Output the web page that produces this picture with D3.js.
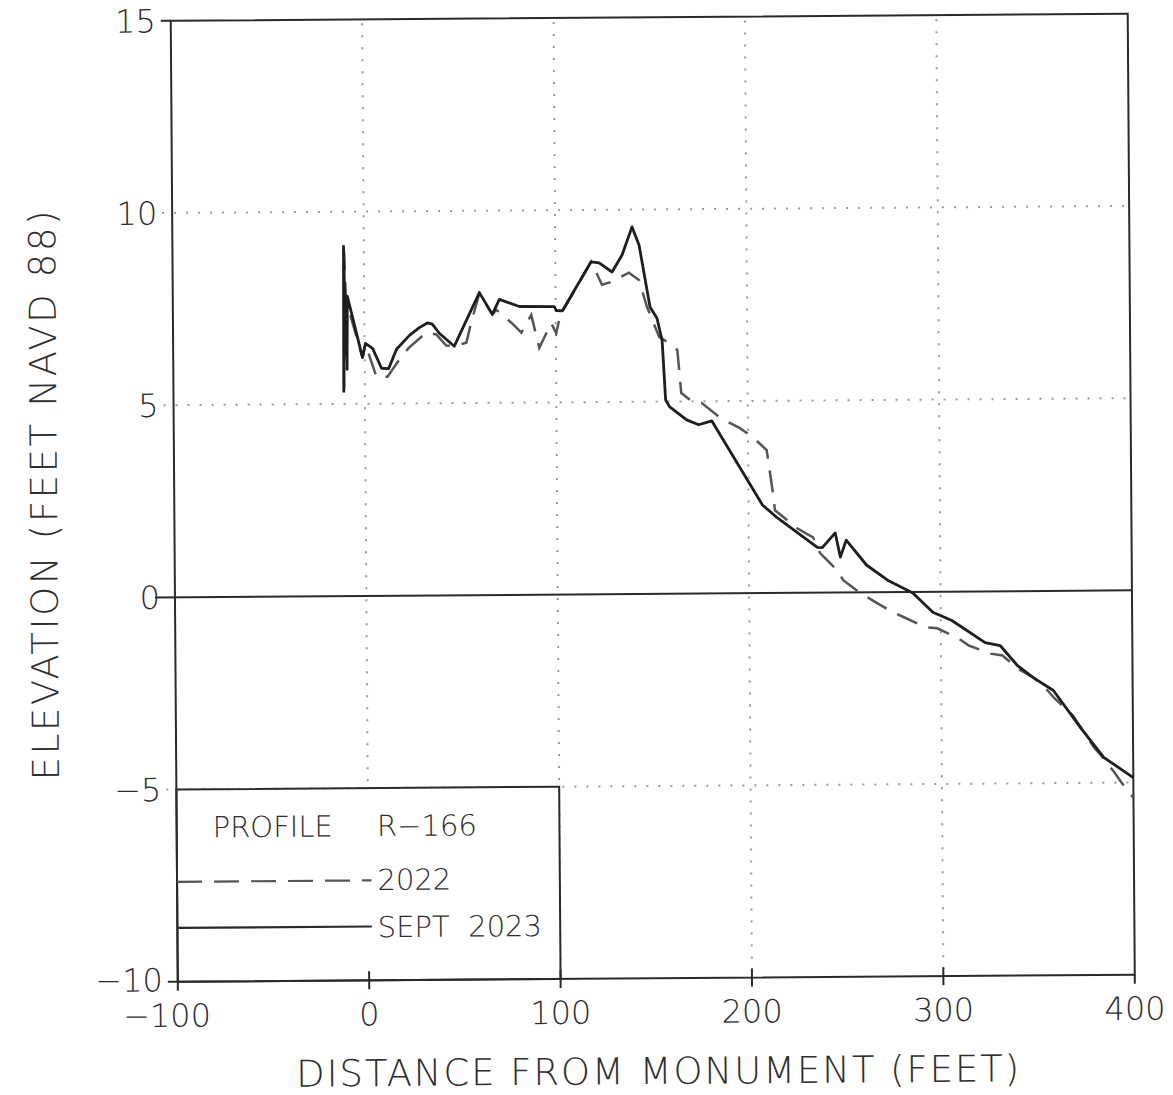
<!DOCTYPE html>
<html lang="en">
<head>
<meta charset="UTF-8">
<title>Profile R-166</title>
<script src="https://d3js.org/d3.v7.min.js"></script>
<style>
  body { margin: 0; background: #fff; }
  svg text { font-family: "DejaVu Sans", "Liberation Sans", sans-serif; font-weight: 200; fill: #2e2e2e; }
</style>
</head>
<body>
<div id="chart"></div>
<script>
// axis ticks
const xTicks = [-100, 0, 100, 200, 300, 400];
const yTicks = [-10, -5, 0, 5, 10, 15];
const xGrid = [0, 100, 200, 300];
const yGrid = [5, 10];

// 2022 survey (dashed)
const dist2022 = [-10.8, -10.4, -9.5, -1.1, 0.5, 6.2, 11.9, 19.2, 23.4, 32.3, 37.5, 42.7, 46.9, 53.2, 55.8, 60.2, 66.9,
  69.0, 76.8, 82.0, 87.2, 91.3, 97.6, 100.2, 101.8, 104, 118.7, 124.3, 129.0, 138.4, 143.6, 147.7, 154.0, 158.2, 163.4,
  165.3, 171.1, 175.8, 186.2, 195.6, 202.4, 209.7, 212.8, 213.8, 225.3, 233.6, 237.2, 246.1, 249.2, 258.1, 264.4,
  274.8, 280.5, 292.0, 298.2, 309.2, 314.4, 325.9, 332.1, 340.5, 348.3, 355.6, 358.7, 368.6, 372.8, 379.6, 383.3,
  390.1, 393.7, 400];
const elev2022 = [5.4, 9.0, 7.7, 6.2, 6.55, 5.68, 5.7, 6.22, 6.46, 6.84, 6.79, 6.5, 6.48, 6.57, 7.09, 7.85, 7.3,
  7.42, 7.08, 6.82, 7.28, 6.42, 7.06, 6.8, 7.14, 7.4, 8.65, 8.05, 8.12, 8.36, 8.17, 7.47, 6.68, 6.55, 6.34,
  5.22, 4.99, 4.96, 4.54, 4.3, 4.06, 3.72, 2.6, 2.15, 1.68, 1.44, 1.03, 0.58, 0.32, -0.02, -0.21,
  -0.52, -0.65, -0.92, -0.95, -1.22, -1.4, -1.62, -1.67, -2.03, -2.25, -2.59, -2.77, -3.24, -3.56, -4.08, -4.29,
  -4.73, -4.99, -5.4];

// Sept 2023 survey (solid)
const dist2023 = [-11, -10.6, -10.2, -9.2, -8.8, -1.1, 0.5, 4.2, 8.8, 12.5, 16.7, 23.5, 28.7, 32.9, 35.5, 39.1, 46.9,
  60.2, 66.9, 70.6, 81.0, 99.3, 100.3, 103.5, 118.7, 122.9, 129.6, 134.9, 140.2, 143.8, 149.3, 152.9, 155.5, 157.1,
  159.2, 168.0, 174.3, 181.1, 207.3, 215.1, 235.8, 238.4, 245.2, 247.8, 250.9, 261.4, 272.4, 285.5, 295.9, 305.8,
  323.1, 330.9, 339.8, 348.1, 358.6, 372.6, 384.6, 400];
const elev2023 = [5.3, 9.1, 7.6, 5.9, 7.8, 6.2, 6.57, 6.44, 5.92, 5.91, 6.41, 6.77, 6.97, 7.09, 7.06, 6.82, 6.48,
  7.87, 7.3, 7.69, 7.5, 7.49, 7.39, 7.38, 8.65, 8.62, 8.38, 8.82, 9.55, 9.08, 7.46, 7.17, 6.59, 5.04,
  4.86, 4.52, 4.39, 4.49, 2.29, 1.95, 1.18, 1.17, 1.55, 0.92, 1.36, 0.71, 0.31, -0.03, -0.53, -0.75,
  -1.33, -1.41, -1.93, -2.25, -2.59, -3.56, -4.34, -4.87];

const width = 1173, height = 1095;
const plot = { left: 174.25, top: 17.25, w: 957, h: 961 };
const ink = "#2a2a2a";

const svg = d3.select("#chart").append("svg")
  .attr("width", width)
  .attr("height", height);

// the scanned sheet is a little skewed
const g = svg.append("g")
  .attr("transform", `rotate(-0.42, ${plot.left + plot.w / 2}, ${plot.top + plot.h / 2})`);

const x = d3.scaleLinear().domain([-100, 400]).range([plot.left, plot.left + plot.w]);
const y = d3.scaleLinear().domain([-10, 15]).range([plot.top + plot.h, plot.top]);

// dotted grid
g.selectAll(".vgrid").data(xGrid).join("line")
  .attr("x1", d => x(d)).attr("x2", d => x(d))
  .attr("y1", y(15) + 4).attr("y2", y(-10))
  .attr("stroke", "#9a9a9a").attr("stroke-width", 2).attr("stroke-dasharray", "2,10");
g.selectAll(".hgrid").data(yGrid.concat([-5])).join("line")
  .attr("x1", x(-100) - 10).attr("x2", x(400))
  .attr("y1", d => y(d)).attr("y2", d => y(d))
  .attr("stroke", "#9a9a9a").attr("stroke-width", 2).attr("stroke-dasharray", "2,10");

// zero line
g.append("line")
  .attr("x1", x(-100) - 20).attr("x2", x(400))
  .attr("y1", y(0)).attr("y2", y(0))
  .attr("stroke", ink).attr("stroke-width", 2);

// legend box (covers grid)
g.append("rect")
  .attr("x", x(-100)).attr("y", y(-5))
  .attr("width", x(100) - x(-100)).attr("height", y(-10) - y(-5))
  .attr("fill", "#fff").attr("stroke", ink).attr("stroke-width", 2);

// frame
g.append("rect")
  .attr("x", x(-100)).attr("y", y(15))
  .attr("width", plot.w).attr("height", plot.h)
  .attr("fill", "none").attr("stroke", ink).attr("stroke-width", 2);

// ticks
g.selectAll(".xtick").data(xTicks).join("line")
  .attr("x1", d => x(d)).attr("x2", d => x(d))
  .attr("y1", d => (d === -100 || d === 400) ? y(-10) : y(-10) - 9)
  .attr("y2", y(-10) + 9)
  .attr("stroke", ink).attr("stroke-width", 2);
g.selectAll(".ytick").data([15, -10]).join("line")
  .attr("x1", x(-100) - 10).attr("x2", x(-100))
  .attr("y1", d => y(d)).attr("y2", d => y(d))
  .attr("stroke", ink).attr("stroke-width", 2);

// tick labels
const fmt = d => d < 0 ? "\u2212" + Math.abs(d) : String(d);
g.selectAll(".xlab").data(xTicks).join("text")
  .attr("x", d => x(d) + (d < 0 ? -11 : 0))
  .attr("y", y(-10) + 45)
  .attr("text-anchor", "middle")
  .style("font-size", "32px")
  .text(fmt);
g.selectAll(".ylab").data(yTicks).join("text")
  .attr("x", x(-100) - 15)
  .attr("y", d => y(d) - (d === -10 ? 2 : 0))
  .attr("dy", "0.36em")
  .attr("text-anchor", "end")
  .style("font-size", "32px")
  .text(fmt);

// axis titles
g.append("text")
  .attr("x", 292).attr("y", 1084)
  .attr("textLength", 723).attr("lengthAdjust", "spacing")
  .style("font-size", "37px")
  .text("DISTANCE FROM MONUMENT (FEET)");
g.append("text")
  .attr("transform", "translate(57, 776) rotate(-90)")
  .attr("textLength", 570).attr("lengthAdjust", "spacing")
  .style("font-size", "37px")
  .text("ELEVATION (FEET NAVD 88)");

// profiles
const line = d3.line().x(d => x(d[0])).y(d => y(d[1]));
const p2022 = dist2022.map((d, i) => [d, elev2022[i]]);
const p2023 = dist2023.map((d, i) => [d, elev2023[i]]);

g.append("path").datum(p2022)
  .attr("d", line)
  .attr("fill", "none").attr("stroke", "#555").attr("stroke-width", 2.5)
  .attr("stroke-dasharray", "22,12");
g.append("path").datum(p2023)
  .attr("d", line)
  .attr("fill", "none").attr("stroke", "#1e1e1e").attr("stroke-width", 2.8)
  .attr("stroke-linejoin", "round");

// legend contents
const lx0 = x(-100), lx1 = x(0) + 3;
g.append("text").attr("x", lx0 + 36).attr("y", y(-6.25)).style("font-size", "29px").text("PROFILE");
g.append("text").attr("x", lx1 + 6).attr("y", y(-6.25)).style("font-size", "29px").text("R\u2212166");
g.append("line")
  .attr("x1", lx0).attr("x2", lx1).attr("y1", y(-7.4)).attr("y2", y(-7.4))
  .attr("stroke", "#555").attr("stroke-width", 2.2).attr("stroke-dasharray", "25,12");
g.append("text").attr("x", lx1 + 6).attr("y", y(-7.65)).style("font-size", "29px").text("2022");
g.append("line")
  .attr("x1", lx0).attr("x2", lx1).attr("y1", y(-8.6)).attr("y2", y(-8.6))
  .attr("stroke", ink).attr("stroke-width", 2.2);
g.append("text").attr("x", lx1 + 6).attr("y", y(-8.88)).style("font-size", "29px")
  .attr("xml:space", "preserve").text("SEPT  2023");
</script>
</body>
</html>
